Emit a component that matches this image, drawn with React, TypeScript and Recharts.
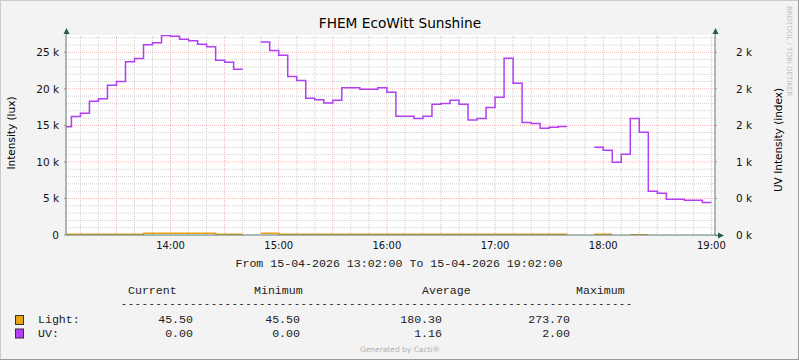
import React from "react";
import {
  ComposedChart,
  Line,
  XAxis,
  YAxis,
  ReferenceLine,
  ReferenceArea,
} from "recharts";

// ---- data ----
const timeLabels = [
  "13:02", "13:05", "13:10", "13:15", "13:20", "13:25", "13:30", "13:35", "13:40", "13:45",
  "13:50", "13:55", "14:00", "14:05", "14:10", "14:15", "14:20", "14:25", "14:30", "14:35",
  "14:40", "14:45", "14:50", "14:55", "15:00", "15:05", "15:10", "15:15", "15:20", "15:25",
  "15:30", "15:35", "15:40", "15:45", "15:50", "15:55", "16:00", "16:05", "16:10", "16:15",
  "16:20", "16:25", "16:30", "16:35", "16:40", "16:45", "16:50", "16:55", "17:00", "17:05",
  "17:10", "17:15", "17:20", "17:25", "17:30", "17:35", "17:40", "17:45", "17:50", "17:55",
  "18:00", "18:05", "18:10", "18:15", "18:20", "18:25", "18:30", "18:35", "18:40", "18:45",
  "18:50", "18:55", "19:00",
];

const uvValues: (number | null)[] = [
  14800, 16200, 16650, 18300, 18650, 20500, 21000, 23700, 24150, 26050,
  26300, 27300, 27200, 26800, 26600, 26100, 25750, 23900, 23650, 22700,
  22700, null, 26400, 25250, 24600, 21700, 21150, 18700, 18500, 18050,
  18450, 20150, 20150, 19950, 19950, 20150, 19550, 16250, 16250, 15950,
  16250, 17900, 18000, 18450, 17900, 15750, 15950, 17450, 18850, 24200,
  20750, 15400, 15250, 14600, 14750, 14850, 14850, null, null, 12000,
  11600, 9950, 11050, 15950, 14050, 6000, 5700, 4880, 4880, 4750,
  4750, 4450, 4450,
];

const lightValues: (number | null)[] = [
  100, 100, 100, 100, 100, 100, 100, 100, 100, 250,
  250, 250, 250, 250, 250, 250, 250, 100, 100, 100,
  100, null, 250, 250, 100, 100, 100, 100, 100, 100,
  100, 100, 100, 100, 100, 100, 100, 100, 100, 100,
  100, 100, 100, 100, 100, 100, 100, 100, 100, 100,
  100, 100, 100, 100, 100, 100, 100, null, null, 100,
  100, 100, null, 45.5, 45.5, 45.5, null, null, null, null,
  null, null, null,
];

const startLabel = "13:02";
const endLabel = "19:02";
const hourLabels = ["14:00", "15:00", "16:00", "17:00", "18:00", "19:00"];
const halfHourLabels = ["13:30", "14:00", "14:30", "15:00", "15:30", "16:00", "16:30", "17:00", "17:30", "18:00", "18:30", "19:00"];
const tenMinLabels = [
  "13:10", "13:20", "13:40", "13:50", "14:10", "14:20", "14:40", "14:50",
  "15:10", "15:20", "15:40", "15:50", "16:10", "16:20", "16:40", "16:50",
  "17:10", "17:20", "17:40", "17:50", "18:10", "18:20", "18:40", "18:50",
];
const leftTicks = [0, 5000, 10000, 15000, 20000, 25000];
const leftTickLabels = ["0", "5 k", "10 k", "15 k", "20 k", "25 k"];
const rightTickLabels = ["0 k", "0 k", "1 k", "2 k", "2 k", "2 k"];
const minorYValues = [
  1000, 2000, 3000, 4000, 6000, 7000, 8000, 9000, 11000, 12000, 13000, 14000,
  16000, 17000, 18000, 19000, 21000, 22000, 23000, 24000, 26000, 27000,
];
const yMax = 27370;

const legendRows = [
  { name: "Light:", color: "#E9A11B", current: "45.50", minimum: "45.50", average: "180.30", maximum: "273.70" },
  { name: "UV:", color: "#B140F5", current: "0.00", minimum: "0.00", average: "1.16", maximum: "2.00" },
];

// ---- helpers ----
const toMin = (s: string) => {
  const [h, m] = s.split(":").map(Number);
  return h * 60 + m;
};

const data = timeLabels.map((t, i) => ({
  t: toMin(t),
  uv: uvValues[i],
  light: lightValues[i],
}));

const xStart = toMin(startLabel);
const xEnd = toMin(endLabel);
const hourTicks = hourLabels.map(toMin);

const UV_COLOR = "#B140F5";
const LIGHT_COLOR = "#E9A11B";
const AXIS_COLOR = "#5d7b70";
const ARROW_COLOR = "#2f5a4b";
const MINOR_GRID = "#d2d2d2";
const MAJOR_GRID = "#f0b8b8";

const W = 799;
const H = 360;

export default function App() {
  const mono = "'Liberation Mono', 'DejaVu Sans Mono', monospace";
  const sans = "'DejaVu Sans', sans-serif";
  return (
    <div style={{ position: "absolute", left: 0, top: 0, width: W, height: H, background: "#f3f3f3" }}>
      <ComposedChart
        width={W}
        height={H}
        data={data}
        margin={{ top: 35, right: 0, bottom: 0, left: 0 }}
      >
        <XAxis
          dataKey="t"
          type="number"
          scale="linear"
          domain={[xStart, xEnd]}
          allowDataOverflow
          ticks={hourTicks}
          tickFormatter={(v: number) => hourLabels[hourTicks.indexOf(v)] ?? ""}
          height={125}
          axisLine={{ stroke: AXIS_COLOR, strokeWidth: 1 }}
          tickLine={false}
          tickMargin={1}
          tick={{ fontSize: 10, fontFamily: sans, fill: "#111" }}
          interval={0}
        />
        <YAxis
          yAxisId="left"
          orientation="left"
          type="number"
          domain={[0, yMax]}
          allowDataOverflow
          ticks={leftTicks}
          tickFormatter={(v: number) => leftTickLabels[leftTicks.indexOf(v)] ?? ""}
          width={66}
          axisLine={{ stroke: AXIS_COLOR, strokeWidth: 1 }}
          tickLine={{ stroke: "#999" }}
          tickSize={2}
          tickMargin={5}
          tick={{ fontSize: 10.5, fontFamily: sans, fill: "#111" }}
          interval={0}
        />
        <YAxis
          yAxisId="right"
          orientation="right"
          type="number"
          domain={[0, yMax]}
          allowDataOverflow
          ticks={leftTicks}
          tickFormatter={(v: number) => rightTickLabels[leftTicks.indexOf(v)] ?? ""}
          width={84}
          axisLine={{ stroke: AXIS_COLOR, strokeWidth: 1 }}
          tickLine={{ stroke: "#999" }}
          tickSize={2}
          tickMargin={19}
          tick={{ fontSize: 10.5, fontFamily: sans, fill: "#111" }}
          interval={0}
        />
        <ReferenceArea
          yAxisId="left"
          x1={xStart}
          x2={xEnd}
          y1={0}
          y2={yMax}
          fill="#ffffff"
          fillOpacity={1}
          stroke="none"
        />
        {minorYValues.map((v) => (
          <ReferenceLine key={"my" + v} yAxisId="left" y={v} stroke={MINOR_GRID} strokeDasharray="1 1" strokeWidth={1} />
        ))}
        {tenMinLabels.map((s) => (
          <ReferenceLine key={"mx" + s} yAxisId="left" x={toMin(s)} stroke={MINOR_GRID} strokeDasharray="1 1" strokeWidth={1} />
        ))}
        {leftTicks.slice(1).map((v) => (
          <ReferenceLine key={"My" + v} yAxisId="left" y={v} stroke={MAJOR_GRID} strokeDasharray="1 1" strokeWidth={1} />
        ))}
        {halfHourLabels.map((s) => (
          <ReferenceLine key={"Mx" + s} yAxisId="left" x={toMin(s)} stroke={MAJOR_GRID} strokeDasharray="1 1" strokeWidth={1} />
        ))}
        <Line
          yAxisId="left"
          type="stepAfter"
          dataKey="light"
          stroke={LIGHT_COLOR}
          strokeWidth={1.5}
          dot={false}
          activeDot={false}
          connectNulls={false}
          isAnimationActive={false}
        />
        <Line
          yAxisId="left"
          type="stepAfter"
          dataKey="uv"
          stroke={UV_COLOR}
          strokeWidth={1.5}
          dot={false}
          activeDot={false}
          connectNulls={false}
          isAnimationActive={false}
        />
      </ComposedChart>

      <svg
        width={W}
        height={H}
        style={{ position: "absolute", left: 0, top: 0, pointerEvents: "none" }}
      >
        {/* frame */}
        <line x1={0.5} y1={0} x2={0.5} y2={H} stroke="#cbcbcb" />
        <line x1={0} y1={0.5} x2={W} y2={0.5} stroke="#cbcbcb" />
        <line x1={W - 0.5} y1={0} x2={W - 0.5} y2={H} stroke="#9a9a9a" />
        <line x1={0} y1={H - 0.5} x2={W} y2={H - 0.5} stroke="#9a9a9a" />

        {/* axis arrows */}
        <line x1={66.5} y1={31} x2={66.5} y2={35} stroke={AXIS_COLOR} />
        <polygon points="63.5,34 69.5,34 66.5,28" fill={ARROW_COLOR} />
        <line x1={715.5} y1={31} x2={715.5} y2={35} stroke={AXIS_COLOR} />
        <polygon points="712.5,34 718.5,34 715.5,28" fill={ARROW_COLOR} />
        <line x1={715} y1={235.5} x2={719} y2={235.5} stroke={AXIS_COLOR} />
        <polygon points="718,232.5 718,238.5 724,235.5" fill={ARROW_COLOR} />

        {/* title */}
        <text x={400} y={28} textAnchor="middle" fontFamily={sans} fontSize={13.7} fill="#000">
          FHEM EcoWitt Sunshine
        </text>

        {/* axis titles */}
        <text
          x={0}
          y={0}
          transform="translate(15,133) rotate(-90)"
          textAnchor="middle"
          fontFamily={sans}
          fontSize={10.5}
          fill="#000"
        >
          Intensity (lux)
        </text>
        <text
          x={0}
          y={0}
          transform="translate(782,140) rotate(-90)"
          textAnchor="middle"
          fontFamily={sans}
          fontSize={10.5}
          fill="#000"
        >
          UV Intensity (index)
        </text>

        {/* watermark */}
        <text
          x={0}
          y={0}
          transform="translate(787,6) rotate(90)"
          textAnchor="start"
          fontFamily={sans}
          fontSize={7}
          fill="#bdbdbd"
        >
          RRDTOOL / TOBI OETIKER
        </text>

        {/* time range */}
        <text x={399} y={267} textAnchor="middle" fontFamily={mono} fontSize={11.6} fill="#222">
          From 15-04-2026 13:02:00 To 15-04-2026 19:02:00
        </text>

        {/* legend header */}
        <text y={294} fontFamily={mono} fontSize={11.6} fill="#222">
          <tspan x={128}>Current</tspan>
          <tspan x={254}>Minimum</tspan>
          <tspan x={422}>Average</tspan>
          <tspan x={576}>Maximum</tspan>
        </text>
        <text x={121} y={307} fontFamily={mono} fontSize={10} fill="#222" textLength={511} lengthAdjust="spacing">
          {"-".repeat(74)}
        </text>

        {legendRows.map((r, i) => {
          const y = 323 + i * 13.5;
          return (
            <g key={r.name}>
              <rect x={15.5} y={y - 7.5} width={8} height={9} fill={r.color} stroke="#333" strokeWidth={1} />
              <text x={38} y={y} fontFamily={mono} fontSize={11.6} fill="#222">
                {r.name}
              </text>
              <text x={193} y={y} textAnchor="end" fontFamily={mono} fontSize={11.6} fill="#222">
                {r.current}
              </text>
              <text x={300} y={y} textAnchor="end" fontFamily={mono} fontSize={11.6} fill="#222">
                {r.minimum}
              </text>
              <text x={442} y={y} textAnchor="end" fontFamily={mono} fontSize={11.6} fill="#222">
                {r.average}
              </text>
              <text x={570} y={y} textAnchor="end" fontFamily={mono} fontSize={11.6} fill="#222">
                {r.maximum}
              </text>
            </g>
          );
        })}

        <text x={400} y={352} textAnchor="middle" fontFamily={sans} fontSize={7.5} fill="#b0b0b0">
          Generated by Cacti®
        </text>
      </svg>
    </div>
  );
}
